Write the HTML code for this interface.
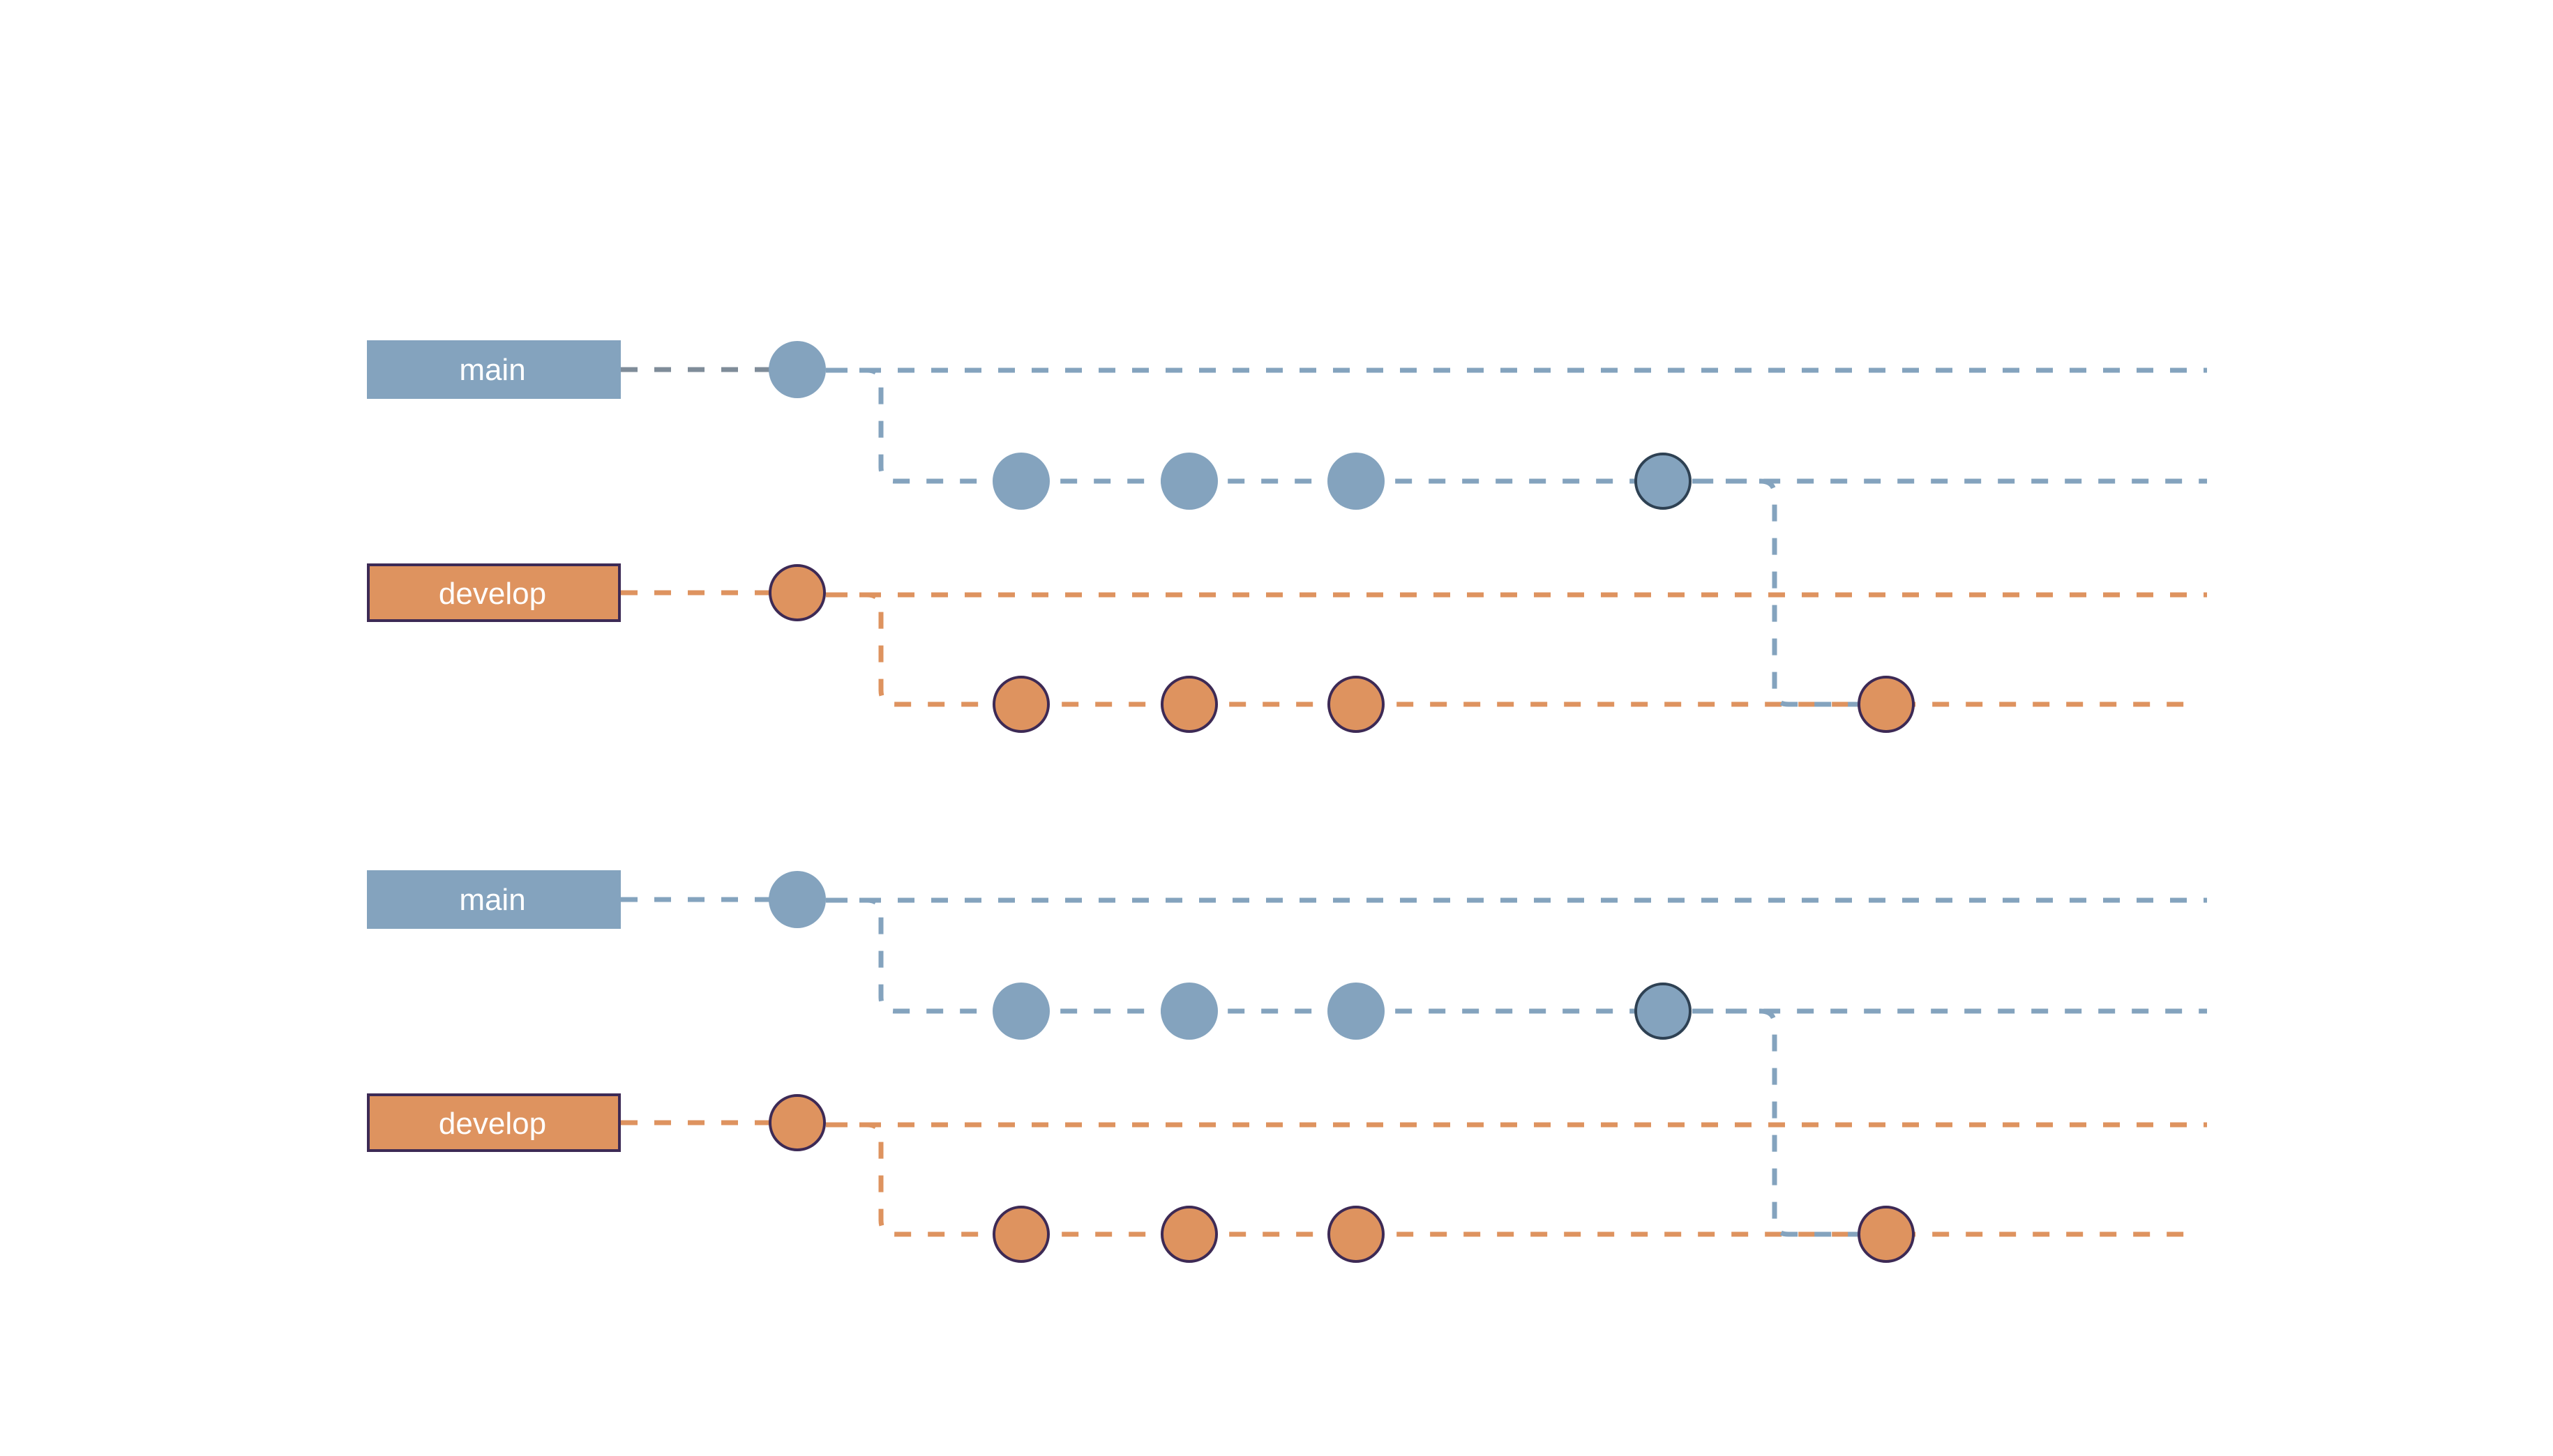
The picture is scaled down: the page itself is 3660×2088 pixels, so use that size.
<!DOCTYPE html>
<html><head><meta charset="utf-8"><style>
html,body{margin:0;padding:0;background:#fff;}
svg{display:block;}
text{font-family:"Liberation Sans",Arial,sans-serif;font-size:44px;fill:#fff;}
</style></head><body>
<svg width="3660" height="2088" viewBox="0 0 3660 2088" xmlns="http://www.w3.org/2000/svg">
<defs>
<g id="blk">
  <!-- lines -->
  <g fill="none" stroke-width="7" stroke-dasharray="24 24">
    <path d="M890 850 H1143" stroke="#de935f"/>
    <path d="M1143 531 H3164" stroke="#84a3be"/>
    <path d="M1184 531 H1243 Q1263 531 1263 551 V670 Q1263 690 1283 690 H3164" stroke="#84a3be"/>
    <path d="M1143 853 H3164" stroke="#de935f"/>
    <path d="M1184 853 H1243 Q1263 853 1263 873 V990 Q1263 1010 1283 1010 H3152" stroke="#de935f"/>
    <path d="M2426 690 H2524 Q2544 690 2544 710 V990 Q2544 1010 2564 1010 H2665" stroke="#84a3be"/>
  </g>
  <!-- circles -->
  <g fill="#84a3be">
    <circle cx="1464" cy="690" r="41"/>
    <circle cx="1705" cy="690" r="41"/>
    <circle cx="1944" cy="690" r="41"/>
    <circle cx="2384" cy="690" r="39" stroke="#2e4153" stroke-width="4"/>
  </g>
  <g fill="#de935f" stroke="#3d2a55" stroke-width="4">
    <circle cx="1143" cy="850" r="39"/>
    <circle cx="1464" cy="1010" r="39"/>
    <circle cx="1705" cy="1010" r="39"/>
    <circle cx="1944" cy="1010" r="39"/>
    <circle cx="2704" cy="1010" r="39"/>
  </g>
  <rect x="528" y="810" width="360" height="80" fill="#de935f" stroke="#3d2a55" stroke-width="4"/>
  <text x="706" y="866" text-anchor="middle">develop</text>
</g>
</defs>

<!-- block 1 -->
<path d="M890 530 H1143" stroke="#7f8c99" stroke-width="7" stroke-dasharray="24 24" fill="none"/>
<use href="#blk"/>
<circle cx="1143" cy="530" r="41" fill="#84a3be"/>
<rect x="526" y="488" width="364" height="84" fill="#84a3be"/>
<text x="706" y="545" text-anchor="middle">main</text>

<!-- block 2 -->
<path d="M890 1290 H1143" stroke="#84a3be" stroke-width="7" stroke-dasharray="24 24" fill="none"/>
<use href="#blk" transform="translate(0,760)"/>
<circle cx="1143" cy="1290" r="41" fill="#84a3be"/>
<rect x="526" y="1248" width="364" height="84" fill="#84a3be"/>
<text x="706" y="1305" text-anchor="middle">main</text>
</svg>
</body></html>
